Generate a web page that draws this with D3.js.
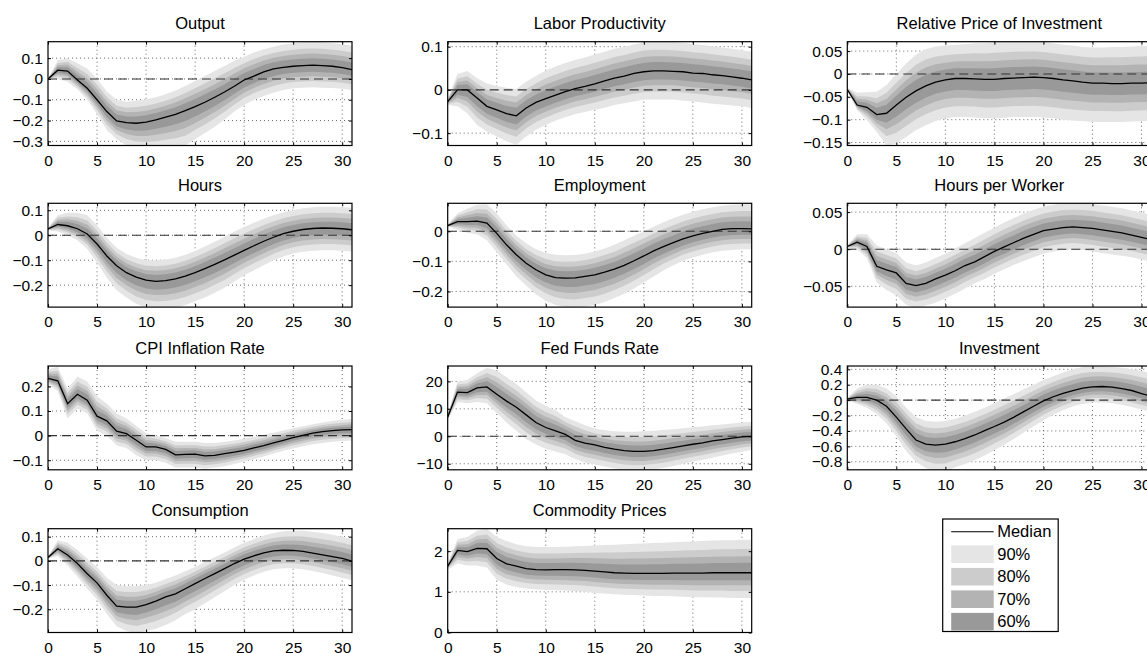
<!DOCTYPE html>
<html>
<head>
<meta charset="utf-8">
<script src="https://cdn.jsdelivr.net/npm/d3@7"></script>
<style>
  html, body { margin: 0; padding: 0; background: #fff; }
  svg { display: block; }
  text { font-family: "Liberation Sans", Arial, Helvetica, sans-serif; fill: #000; }
</style>
</head>
<body>
<svg id="chart" width="1147" height="653"></svg>
<script>
// ---------------- DATA ----------------
const horizons = [0,1,2,3,4,5,6,7,8,9,10,11,12,13,14,15,16,17,18,19,20,21,22,23,24,25,26,27,28,29,30,31];
const xTicks = [0,5,10,15,20,25,30];
const xDomain = [0,31];

const titles = ["Output","Labor Productivity","Relative Price of Investment","Hours","Employment","Hours per Worker","CPI Inflation Rate","Fed Funds Rate","Investment","Consumption","Commodity Prices"];

const outputMed = [0,0.042,0.038,-0.005,-0.045,-0.10,-0.157,-0.202,-0.21,-0.213,-0.208,-0.197,-0.184,-0.170,-0.152,-0.133,-0.112,-0.088,-0.063,-0.035,-0.005,0.014,0.034,0.048,0.056,0.061,0.064,0.066,0.064,0.061,0.054,0.045];
const outputHi90 = [0,0.09,0.10,0.075,0.05,0,-0.06,-0.10,-0.11,-0.105,-0.098,-0.088,-0.074,-0.056,-0.034,-0.01,0.014,0.038,0.062,0.087,0.107,0.127,0.143,0.155,0.165,0.171,0.176,0.178,0.176,0.171,0.167,0.159];
const outputLo90 = [0,0.0,-0.013,-0.05,-0.1,-0.17,-0.245,-0.29,-0.32,-0.335,-0.34,-0.34,-0.335,-0.33,-0.32,-0.29,-0.26,-0.23,-0.195,-0.157,-0.125,-0.10,-0.082,-0.066,-0.053,-0.045,-0.042,-0.04,-0.042,-0.043,-0.047,-0.053];

const laborMed = [-0.027,0,0,-0.019,-0.038,-0.046,-0.055,-0.06,-0.042,-0.029,-0.02,-0.012,-0.004,0.003,0.008,0.014,0.021,0.027,0.032,0.038,0.042,0.044,0.044,0.043,0.042,0.039,0.038,0.035,0.033,0.03,0.027,0.023];
const laborHi90 = [-0.02,0.037,0.044,0.027,0.015,0.009,0.005,0.002,0.019,0.032,0.045,0.054,0.062,0.069,0.075,0.082,0.088,0.095,0.1,0.105,0.11,0.112,0.112,0.111,0.109,0.106,0.104,0.101,0.098,0.095,0.092,0.088];
const laborLo90 = [-0.035,-0.038,-0.054,-0.081,-0.096,-0.108,-0.119,-0.127,-0.108,-0.092,-0.081,-0.071,-0.063,-0.056,-0.051,-0.046,-0.041,-0.035,-0.031,-0.027,-0.023,-0.022,-0.022,-0.022,-0.025,-0.027,-0.029,-0.032,-0.034,-0.036,-0.038,-0.042];

const relPriceMed = [-0.034,-0.068,-0.073,-0.089,-0.086,-0.068,-0.051,-0.037,-0.026,-0.018,-0.013,-0.01,-0.01,-0.011,-0.012,-0.012,-0.01,-0.009,-0.008,-0.007,-0.008,-0.01,-0.013,-0.015,-0.018,-0.02,-0.02,-0.021,-0.021,-0.02,-0.02,-0.019];
const relPriceHi90 = [-0.03,-0.041,-0.04,-0.039,-0.024,0,0.023,0.042,0.054,0.06,0.062,0.064,0.065,0.067,0.067,0.069,0.07,0.071,0.071,0.071,0.07,0.067,0.064,0.062,0.059,0.058,0.058,0.059,0.059,0.06,0.061,0.061];
const relPriceLo90 = [-0.036,-0.079,-0.101,-0.127,-0.156,-0.152,-0.138,-0.123,-0.112,-0.103,-0.097,-0.094,-0.094,-0.095,-0.097,-0.097,-0.096,-0.094,-0.094,-0.094,-0.095,-0.097,-0.1,-0.102,-0.103,-0.105,-0.105,-0.105,-0.105,-0.104,-0.103,-0.103];

const hoursMed = [0.025,0.043,0.038,0.026,0.005,-0.035,-0.083,-0.122,-0.15,-0.168,-0.18,-0.185,-0.182,-0.175,-0.164,-0.15,-0.134,-0.117,-0.099,-0.08,-0.061,-0.042,-0.024,-0.008,0.006,0.016,0.023,0.027,0.029,0.028,0.026,0.022];
const hoursHi90 = [0.03,0.08,0.09,0.09,0.08,0.04,-0.01,-0.05,-0.075,-0.09,-0.1,-0.1,-0.097,-0.09,-0.078,-0.063,-0.045,-0.026,-0.006,0.014,0.033,0.05,0.066,0.08,0.092,0.101,0.108,0.112,0.114,0.114,0.112,0.11];
const hoursLo90 = [0.02,0.015,0.0,-0.02,-0.055,-0.11,-0.17,-0.22,-0.25,-0.275,-0.29,-0.295,-0.295,-0.29,-0.28,-0.265,-0.25,-0.23,-0.21,-0.185,-0.16,-0.14,-0.12,-0.1,-0.085,-0.073,-0.066,-0.062,-0.06,-0.06,-0.062,-0.065];

const employmentMed = [0.019,0.032,0.032,0.034,0.027,-0.007,-0.045,-0.078,-0.106,-0.128,-0.145,-0.154,-0.156,-0.155,-0.15,-0.145,-0.136,-0.126,-0.113,-0.098,-0.082,-0.065,-0.051,-0.038,-0.025,-0.015,-0.007,0,0.006,0.009,0.009,0.008];
const employmentHi90 = [0.022,0.06,0.075,0.088,0.09,0.06,0.02,-0.015,-0.04,-0.06,-0.072,-0.078,-0.08,-0.079,-0.075,-0.067,-0.057,-0.045,-0.03,-0.015,0.0,0.015,0.03,0.043,0.055,0.065,0.073,0.08,0.085,0.088,0.09,0.09];
const employmentLo90 = [0.016,0.005,-0.005,-0.01,-0.03,-0.07,-0.11,-0.15,-0.18,-0.21,-0.23,-0.245,-0.252,-0.255,-0.25,-0.245,-0.235,-0.222,-0.208,-0.19,-0.17,-0.15,-0.13,-0.113,-0.098,-0.087,-0.078,-0.07,-0.065,-0.062,-0.06,-0.06];

const hpwMed = [0.0036,0.0094,0.0036,-0.023,-0.028,-0.032,-0.046,-0.049,-0.046,-0.04,-0.035,-0.029,-0.022,-0.017,-0.01,-0.003,0.003,0.009,0.015,0.02,0.025,0.027,0.029,0.03,0.029,0.028,0.026,0.024,0.022,0.019,0.016,0.013];
const hpwHi90 = [0.005,0.02,0.02,0.005,0.0,-0.005,-0.018,-0.022,-0.018,-0.012,-0.006,0.001,0.008,0.015,0.022,0.029,0.036,0.042,0.048,0.053,0.057,0.06,0.062,0.062,0.062,0.061,0.059,0.057,0.055,0.052,0.049,0.046];
const hpwLo90 = [0.002,0.0,-0.012,-0.045,-0.055,-0.062,-0.075,-0.079,-0.076,-0.072,-0.066,-0.06,-0.053,-0.046,-0.04,-0.033,-0.027,-0.021,-0.016,-0.011,-0.006,-0.003,-0.001,0.0,-0.001,-0.003,-0.005,-0.007,-0.009,-0.011,-0.014,-0.017];

const cpiMed = [0.233,0.223,0.13,0.168,0.144,0.079,0.06,0.018,0.008,-0.019,-0.046,-0.046,-0.056,-0.078,-0.076,-0.075,-0.082,-0.08,-0.073,-0.067,-0.06,-0.05,-0.041,-0.03,-0.019,-0.008,0.001,0.01,0.016,0.02,0.023,0.024];
const cpiHi90 = [0.27,0.28,0.19,0.24,0.22,0.16,0.13,0.09,0.07,0.04,0.01,0.0,-0.01,-0.025,-0.025,-0.025,-0.03,-0.03,-0.025,-0.02,-0.013,-0.005,0.003,0.012,0.021,0.03,0.038,0.046,0.053,0.059,0.064,0.068];
const cpiLo90 = [0.21,0.18,0.07,0.11,0.09,0.02,0.0,-0.04,-0.05,-0.08,-0.1,-0.1,-0.11,-0.13,-0.13,-0.13,-0.135,-0.13,-0.125,-0.115,-0.105,-0.095,-0.085,-0.073,-0.062,-0.052,-0.043,-0.035,-0.03,-0.025,-0.022,-0.02];

const fedMed = [7.0,16.1,15.9,17.6,18.0,15.3,12.8,10.6,7.8,5.0,3.2,2.0,0.7,-1.5,-2.5,-3.1,-4.0,-4.7,-5.2,-5.5,-5.5,-5.2,-4.7,-4.1,-3.5,-2.9,-2.4,-1.7,-1.2,-0.7,-0.2,0];
const fedHi90 = [8,20,20.5,23,25,24,21.5,19,16,13,11,9.5,7,5.5,4,2.8,2.2,1.8,1.7,1.7,1.8,2.0,2.3,2.6,2.9,3.3,3.6,4.0,4.3,4.7,5.0,5.3];
const fedLo90 = [6,12.5,12,12.5,12,8.5,5,2,-1,-3,-4.5,-5.5,-6.5,-8.3,-9.5,-10.3,-11,-11.7,-12.2,-12.5,-12.4,-12,-11.5,-10.8,-10,-9.2,-8.5,-7.8,-7,-6.3,-5.6,-5];

const investmentMed = [0.013,0.035,0.035,0,-0.079,-0.22,-0.373,-0.517,-0.57,-0.583,-0.57,-0.54,-0.5,-0.452,-0.395,-0.342,-0.285,-0.22,-0.149,-0.079,-0.009,0.044,0.088,0.123,0.155,0.172,0.177,0.17,0.15,0.125,0.085,0.05];
const investmentHi90 = [0.03,0.15,0.2,0.2,0.15,0.05,-0.1,-0.22,-0.27,-0.28,-0.27,-0.24,-0.2,-0.15,-0.1,-0.04,0.02,0.08,0.14,0.2,0.26,0.31,0.36,0.4,0.43,0.44,0.44,0.43,0.42,0.4,0.38,0.35];
const investmentLo90 = [0.0,-0.05,-0.1,-0.18,-0.3,-0.47,-0.66,-0.8,-0.88,-0.92,-0.92,-0.87,-0.83,-0.78,-0.72,-0.65,-0.58,-0.5,-0.42,-0.34,-0.26,-0.19,-0.13,-0.08,-0.05,-0.03,-0.03,-0.04,-0.06,-0.09,-0.12,-0.15];

const consumptionMed = [0.014,0.05,0.024,-0.011,-0.053,-0.091,-0.142,-0.187,-0.191,-0.191,-0.181,-0.166,-0.149,-0.136,-0.115,-0.094,-0.073,-0.053,-0.032,-0.011,0.007,0.021,0.033,0.041,0.044,0.043,0.039,0.032,0.025,0.018,0.01,-0.001];
const consumptionHi90 = [0.018,0.085,0.075,0.045,0.01,-0.025,-0.07,-0.1,-0.105,-0.105,-0.1,-0.09,-0.075,-0.06,-0.043,-0.025,-0.005,0.015,0.035,0.055,0.075,0.09,0.105,0.115,0.122,0.125,0.125,0.12,0.115,0.108,0.1,0.09];
const consumptionLo90 = [0.01,0.02,-0.02,-0.065,-0.115,-0.16,-0.22,-0.27,-0.29,-0.3,-0.29,-0.28,-0.265,-0.245,-0.22,-0.2,-0.175,-0.15,-0.125,-0.1,-0.078,-0.06,-0.045,-0.035,-0.03,-0.03,-0.035,-0.042,-0.05,-0.06,-0.07,-0.08];

const commodityMed = [1.63,2.02,1.99,2.07,2.06,1.82,1.69,1.63,1.57,1.545,1.54,1.545,1.545,1.54,1.53,1.51,1.49,1.47,1.46,1.455,1.455,1.455,1.455,1.46,1.46,1.46,1.46,1.47,1.47,1.47,1.47,1.47];
const commodityHi90 = [1.7,2.3,2.35,2.5,2.55,2.35,2.25,2.17,2.12,2.1,2.1,2.1,2.11,2.12,2.13,2.14,2.15,2.16,2.17,2.18,2.19,2.2,2.21,2.22,2.23,2.24,2.25,2.26,2.27,2.27,2.28,2.28];
const commodityLo90 = [1.55,1.7,1.65,1.65,1.6,1.3,1.18,1.12,1.08,1.06,1.05,1.04,1.03,1.02,1.0,0.98,0.96,0.94,0.93,0.92,0.91,0.9,0.9,0.89,0.88,0.87,0.87,0.86,0.86,0.85,0.85,0.85];

const yDomains = [[-0.32,0.179],[-0.1286,0.1115],[-0.1565,0.0705],[-0.288,0.128],[-0.252,0.093],[-0.078,0.0618],[-0.139,0.283],[-12.2,25.6],[-0.904,0.443],[-0.296,0.133],[0,2.553]];
const yTicks = [[-0.3,-0.2,-0.1,0,0.1],[-0.1,0,0.1],[-0.15,-0.1,-0.05,0,0.05],[-0.2,-0.1,0,0.1],[-0.2,-0.1,0],[-0.05,0,0.05],[-0.1,0,0.1,0.2],[-10,0,10,20],[-0.8,-0.6,-0.4,-0.2,0,0.2,0.4],[-0.2,-0.1,0,0.1],[0,1,2]];

const medians = [outputMed,laborMed,relPriceMed,hoursMed,employmentMed,hpwMed,cpiMed,fedMed,investmentMed,consumptionMed,commodityMed];
const his90 = [outputHi90,laborHi90,relPriceHi90,hoursHi90,employmentHi90,hpwHi90,cpiHi90,fedHi90,investmentHi90,consumptionHi90,commodityHi90];
const los90 = [outputLo90,laborLo90,relPriceLo90,hoursLo90,employmentLo90,hpwLo90,cpiLo90,fedLo90,investmentLo90,consumptionLo90,commodityLo90];

// credibility bands: label and relative width of each band versus the 90% band
const bandLabels = ["90%","80%","70%","60%"];
const bandWidths = [1.0,0.72,0.5,0.3];
const bandColors = ["#e5e5e5","#cccccc","#b3b3b3","#999999"];

// ---------------- LAYOUT ----------------
const colLeft = [48, 447.7, 847.3];
const rowTop = [41.7, 203.3, 366, 528.7];
const plotW = 304, plotH = 103.8;
const tickFont = 15.5, titleFont = 16.5;

const svg = d3.select("#chart");
const fmt = d3.format("~g");

titles.forEach((title, i) => {
  const col = i % 3, row = Math.floor(i / 3);
  const g = svg.append("g").attr("transform", `translate(${colLeft[col]},${rowTop[row]})`);
  const x = d3.scaleLinear().domain(xDomain).range([0, plotW]);
  const y = d3.scaleLinear().domain(yDomains[i]).range([plotH, 0]);

  const clipId = "clip" + i;
  g.append("clipPath").attr("id", clipId).append("rect").attr("width", plotW).attr("height", plotH);
  const inner = g.append("g").attr("clip-path", `url(#${clipId})`);

  // grid (dotted)
  inner.selectAll("line.gx").data(xTicks.filter(t => t > xDomain[0] && t < xDomain[1])).join("line")
    .attr("x1", d => x(d)).attr("x2", d => x(d)).attr("y1", 0).attr("y2", plotH)
    .attr("stroke", "#444").attr("stroke-width", 0.8).attr("stroke-dasharray", "1,3");
  inner.selectAll("line.gy").data(yTicks[i]).join("line")
    .attr("x1", 0).attr("x2", plotW).attr("y1", d => y(d)).attr("y2", d => y(d))
    .attr("stroke", "#444").attr("stroke-width", 0.8).attr("stroke-dasharray", "1,3");

  const med = medians[i], hi = his90[i], lo = los90[i];
  bandWidths.forEach((w, k) => {
    const area = d3.area()
      .x((d, j) => x(horizons[j]))
      .y0((d, j) => y(med[j] + w * (lo[j] - med[j])))
      .y1((d, j) => y(med[j] + w * (hi[j] - med[j])));
    inner.append("path").datum(horizons).attr("d", area).attr("fill", bandColors[k]);
  });

  // zero line
  inner.append("line").attr("x1", 0).attr("x2", plotW).attr("y1", y(0)).attr("y2", y(0))
    .attr("stroke", "#333").attr("stroke-width", 1.1).attr("stroke-dasharray", "9,5");

  // median
  const line = d3.line().x((d, j) => x(horizons[j])).y((d, j) => y(med[j]));
  inner.append("path").datum(horizons).attr("d", line)
    .attr("fill", "none").attr("stroke", "#000").attr("stroke-width", 1.3);

  // axes
  const ax = g.append("g").attr("transform", `translate(0,${plotH})`)
    .call(d3.axisBottom(x).tickValues(xTicks).tickFormat(fmt).tickSize(-3).tickPadding(9));
  const axT = g.append("g").call(d3.axisTop(x).tickValues(xTicks).tickFormat("").tickSize(-3));
  const ay = g.append("g")
    .call(d3.axisLeft(y).tickValues(yTicks[i]).tickFormat(fmt).tickSize(-3).tickPadding(5));
  const ayR = g.append("g").attr("transform", `translate(${plotW},0)`)
    .call(d3.axisRight(y).tickValues(yTicks[i]).tickFormat("").tickSize(-3));
  [ax, axT, ay, ayR].forEach(a => {
    a.select(".domain").remove();
    a.attr("font-size", null).attr("font-family", null);
    a.selectAll("line").attr("stroke", "#000").attr("stroke-width", 1);
    a.selectAll("text").style("font-size", tickFont + "px").attr("fill", "#000");
  });

  // box
  g.append("rect").attr("width", plotW).attr("height", plotH)
    .attr("fill", "none").attr("stroke", "#000").attr("stroke-width", 1.2);

  // title
  g.append("text").attr("x", plotW / 2).attr("y", -12.5).attr("text-anchor", "middle")
    .style("font-size", titleFont + "px").text(title);
});

// ---------------- LEGEND ----------------
const leg = svg.append("g").attr("transform", "translate(942.7,519)");
leg.append("rect").attr("width", 115.5).attr("height", 112.5)
  .attr("fill", "#fff").attr("stroke", "#000").attr("stroke-width", 1.2);
const legRowY = 12.7, legStep = 22.5;
leg.append("line").attr("x1", 8.5).attr("x2", 51).attr("y1", legRowY).attr("y2", legRowY)
  .attr("stroke", "#000").attr("stroke-width", 1.1);
leg.append("text").attr("x", 54.5).attr("y", legRowY).attr("dy", "0.35em")
  .style("font-size", titleFont + "px").text("Median");
bandLabels.forEach((lab, k) => {
  const cy = legRowY + legStep * (k + 1);
  leg.append("rect").attr("x", 8.5).attr("y", cy - 8.8).attr("width", 42.5).attr("height", 17.6)
    .attr("fill", bandColors[k]);
  leg.append("text").attr("x", 54.5).attr("y", cy).attr("dy", "0.35em")
    .style("font-size", titleFont + "px").text(lab);
});
</script>
</body>
</html>
